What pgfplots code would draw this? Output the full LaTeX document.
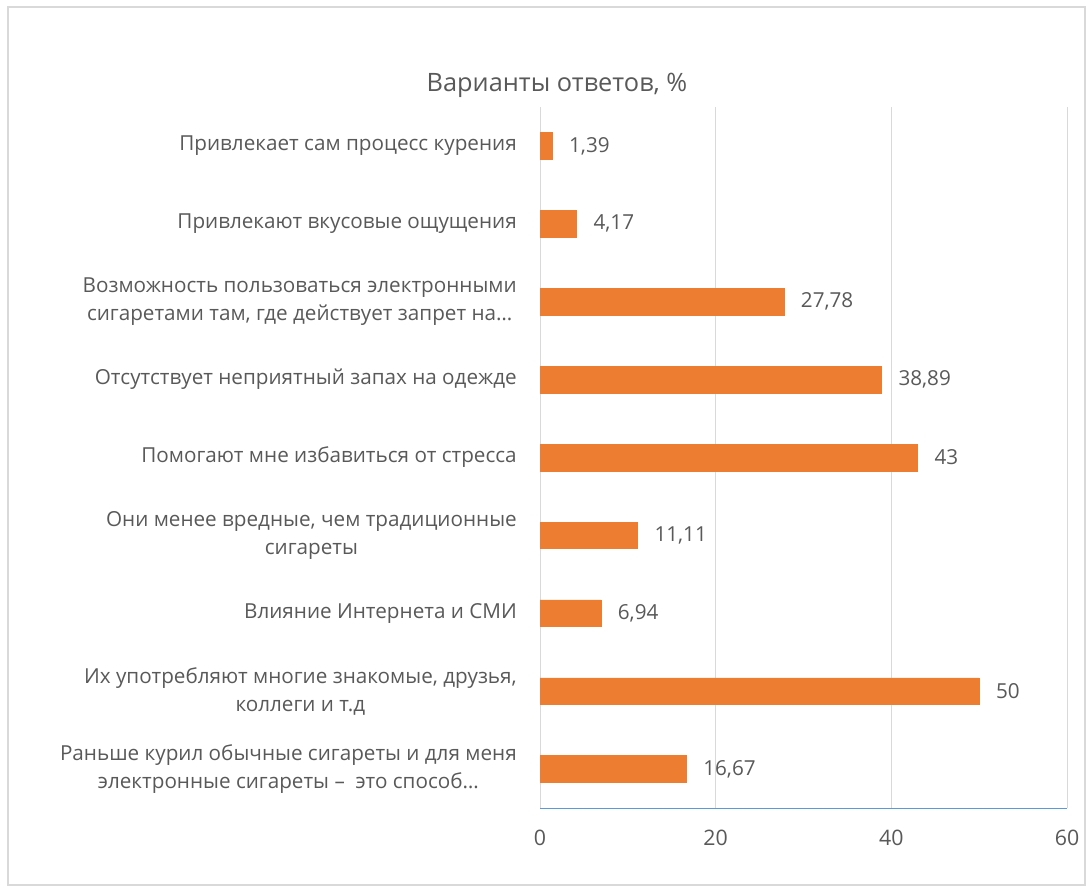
\documentclass[border=0pt]{standalone}
\usepackage{fontspec}
\setmainfont{Open Sans}
\usepackage{pgfplots}
\pgfplotsset{compat=1.18}
\definecolor{barc}{HTML}{ED7D31}
\definecolor{gridc}{HTML}{D9D9D9}
\definecolor{textc}{HTML}{595959}
\definecolor{axisblue}{HTML}{5B9BD5}
\begin{document}
\begin{tikzpicture}
\path (0,0) rectangle (818.25pt,669pt);
\draw[gridc, line width=1pt] (6pt,5.25pt) rectangle (813.75pt,663.75pt);
\node[anchor=base, font=\fontsize{19}{23}\selectfont, text=textc] at (417.75pt,600pt) {Варианты ответов, \%};
\begin{axis}[
  at={(405pt,63pt)}, anchor=south west,
  scale only axis, width=395.25pt, height=525.75pt,
  xbar, bar width=20pt,
  xmin=0, xmax=60, ymin=-0.5, ymax=8.5,
  xtick={0,20,40,60},
  ytick={0,...,8},
  yticklabels={
    {Раньше курил обычные сигареты и для меня\\электронные сигареты –\ \ это способ…},
    {Их употребляют многие знакомые, друзья,\\коллеги и т.д},
    {Влияние Интернета и СМИ},
    {Они менее вредные, чем традиционные\\сигареты},
    {Помогают мне избавиться от стресса},
    {Отсутствует неприятный запах на одежде},
    {Возможность пользоваться электронными\\сигаретами там, где действует запрет на…},
    {Привлекают вкусовые ощущения},
    {Привлекает сам процесс курения}},
  axis x line=bottom, axis y line=left,
  x axis line style={draw=axisblue, line width=0.75pt, -},
  y axis line style={draw=gridc, line width=0.75pt, -},
  xmajorgrids, grid style={draw=gridc, line width=0.75pt},
  major tick length=0pt,
  tick label style={font=\fontsize{15.5}{21}\selectfont, text=textc},
  /pgf/number format/assume math mode=true,
  xticklabel style={inner sep=0pt, yshift=-16pt, font=\fontsize{16}{21}\selectfont},
  yticklabel style={align=center, inner sep=0pt, xshift=-17.25pt},
  clip=false,
  nodes near coords,
  point meta=explicit symbolic,
  nodes near coords style={anchor=west, inner sep=0pt, xshift=12.5pt, font=\fontsize{15.5}{18}\selectfont, text=textc},
]
\addplot[fill=barc, draw=barc] coordinates {
  (16.67,0) [16,67]
  (50,1) [50]
  (6.94,2) [6,94]
  (11.11,3) [11,11]
  (43,4) [43]
  (38.89,5) [38,89]
  (27.78,6) [27,78]
  (4.17,7) [4,17]
  (1.39,8) [1,39]
};
\end{axis}
\end{tikzpicture}
\end{document}
